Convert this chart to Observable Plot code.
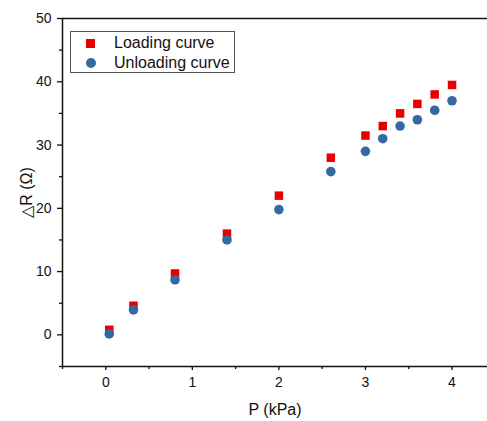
<!DOCTYPE html>
<html>
<head>
<meta charset="utf-8">
<script src="https://cdn.jsdelivr.net/npm/d3@7"></script>
<script src="https://cdn.jsdelivr.net/npm/@observablehq/plot@0.6"></script>
<style>
  html, body { margin: 0; padding: 0; background: white; overflow: hidden; }
  #wrap { position: relative; width: 487px; height: 421px; overflow: hidden; font-family: "Liberation Sans", Arial, sans-serif; }
  #legend { position: absolute; left: 70px; top: 31px; width: 165px; height: 42px; border: 1px solid #555; background: white; box-sizing: border-box; font-size: 16px; color: #111; }
  .item { position: absolute; left: 0; height: 20px; line-height: 20px; }
  .sym { position: absolute; }
  .lab { position: absolute; left: 43px; white-space: nowrap; }
</style>
</head>
<body>
<div id="wrap"></div>
<script>
// Data
const pressure = [0.04, 0.32, 0.80, 1.40, 2.00, 2.60, 3.00, 3.20, 3.40, 3.60, 3.80, 4.00];
const loading = [0.8, 4.6, 9.7, 16.0, 22.0, 28.0, 31.5, 33.0, 35.0, 36.5, 38.0, 39.5];
const unloading = [0.15, 3.95, 8.7, 15.0, 19.8, 25.8, 29.0, 31.0, 33.0, 34.0, 35.5, 37.0];
const seriesNames = ["Loading curve", "Unloading curve"];
const xMajorTicks = [0, 1, 2, 3, 4];
const xMinorTicks = [-0.5, 0.5, 1.5, 2.5, 3.5];
const yMajorTicks = [0, 10, 20, 30, 40, 50];
const yMinorTicks = [-5, 5, 15, 25, 35, 45];
// x axis runs from -0.5 to 4.5 but the picture is cropped at the right edge (~4.41)
const xDomain = [-0.5, 4.41];
const yDomain = [-5, 50];
const xLabel = "P (kPa)";
const yLabel = "\u25B3R (\u03A9)";

const colors = {"Loading curve": "#e80000", "Unloading curve": "#346aa0"};
const loadRows = pressure.map((p, i) => ({p, r: loading[i]}));
const unloadRows = pressure.map((p, i) => ({p, r: unloading[i]}));

const font = "'Liberation Sans', Arial, sans-serif";
const chart = Plot.plot({
  width: 487,
  height: 421,
  marginLeft: 62,
  marginTop: 18,
  marginBottom: 55,
  marginRight: 0,
  style: {fontFamily: font, color: "#111", background: "white", overflow: "hidden"},
  x: {domain: xDomain},
  y: {domain: yDomain},
  marks: [
    Plot.axisX({ticks: xMajorTicks, tickSize: 4, tickPadding: 7, fontSize: 14, label: null, strokeWidth: 1.3, tickFormat: d3.format("d")}),
    Plot.axisX({ticks: xMinorTicks, tickSize: 3, text: null, label: null, strokeWidth: 1.3}),
    Plot.axisX({ticks: [], label: xLabel, labelAnchor: "center", labelArrow: "none", labelOffset: 48, fontSize: 16, dx: 4}),
    Plot.axisY({ticks: yMajorTicks, tickSize: 5, tickPadding: 6, fontSize: 14, label: null, strokeWidth: 1.3}),
    Plot.axisY({ticks: yMinorTicks, tickSize: 3, text: null, label: null, strokeWidth: 1.3}),
    Plot.axisY({ticks: [], label: yLabel, labelAnchor: "center", labelArrow: "none", labelOffset: 42, fontSize: 16}),
    Plot.dot(loadRows, {x: "p", y: "r", symbol: "square", r: 4.8, fill: colors[seriesNames[0]]}),
    Plot.dot(unloadRows, {x: "p", y: "r", symbol: "circle", r: 4.8, fill: colors[seriesNames[1]]}),
    Plot.ruleY(yDomain, {stroke: "#111", strokeWidth: 1.5}),
    Plot.ruleX([xDomain[0]], {stroke: "#111", strokeWidth: 1.5})
  ]
});
const wrap = document.getElementById("wrap");
wrap.appendChild(chart);

// Legend
const legend = document.createElement("div");
legend.id = "legend";
seriesNames.forEach((name, i) => {
  const item = document.createElement("div");
  item.className = "item";
  item.style.top = (i === 0 ? 1 : 21) + "px";
  item.style.width = "100%";
  const sym = document.createElement("div");
  sym.className = "sym";
  if (i === 0) {
    Object.assign(sym.style, {left: "15px", top: "6px", width: "9px", height: "9px", background: colors[name]});
  } else {
    Object.assign(sym.style, {left: "15px", top: "5px", width: "10px", height: "10px", borderRadius: "50%", background: colors[name]});
  }
  const lab = document.createElement("div");
  lab.className = "lab";
  lab.textContent = name;
  item.appendChild(sym);
  item.appendChild(lab);
  legend.appendChild(item);
});
wrap.appendChild(legend);
</script>
</body>
</html>
